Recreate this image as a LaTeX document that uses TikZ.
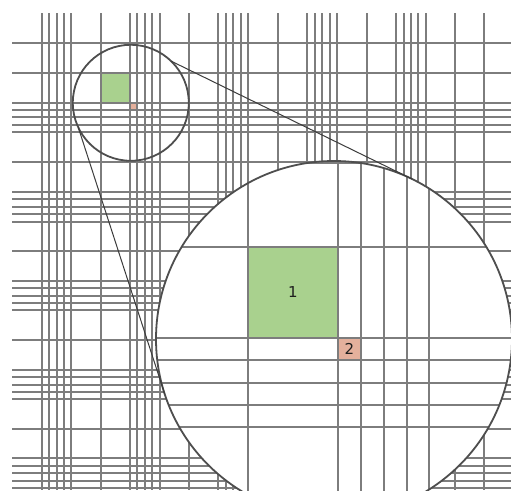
\documentclass[tikz,border=0pt]{standalone}
\usepackage{fontspec}
\newfontfamily\labfont{DejaVu Sans}
\definecolor{gridgray}{RGB}{125,125,125}
\definecolor{circgray}{RGB}{78,78,78}
\definecolor{tangray}{RGB}{60,60,60}
\definecolor{cellgreen}{RGB}{169,209,142}
\definecolor{cellred}{RGB}{228,176,156}
\definecolor{labelink}{RGB}{30,30,30}
\begin{document}
\begin{tikzpicture}[x=1pt,y=-1pt,
  gridline/.style={draw=gridgray, line width=1.8pt},
  cellbox/.style={inner sep=0pt, outer sep=0pt, anchor=north west, text=labelink, font=\labfont\fontsize{15}{17}\selectfont},
  lens/.style={circle, draw=circgray, line width=1.8pt, inner sep=0pt, outer sep=0pt},
  tanline/.style={draw=tangray, line width=1pt}]
\useasboundingbox (0,0) rectangle (511,490);
\fill[white] (0,0) rectangle (511,490);

% cells of the background grid
\node[cellbox, fill=cellgreen, minimum width=29pt, minimum height=30pt] (gs) at (101,73) {};
\node[cellbox, fill=cellred, minimum width=7pt, minimum height=7pt] (rs) at (130,103) {};

% background grid
\foreach \v in {42,49,57,64,71, 101, 130,137,145,152,160, 189,
                218,226,233,241,248, 278, 307,315,322,330,337, 367,
                396,404,411,418,426, 455, 484}
  \draw[gridline] (\v,13) -- (\v,490);
\foreach \h in {43, 73, 103,110,117,125,132, 162, 192,199,207,214,222, 251,
                281,288,296,303,310, 340, 370,377,385,392,399, 429,
                458,466,473,481,488}
  \draw[gridline] (12,\h) -- (511,\h);

% small lens
\node[lens, minimum size=116pt] (sc) at (130.8,102.8) {};

% magnified view
\fill[white] (334,339) circle (178pt);
\begin{scope}
  \clip (334,339) circle (178pt);
  \node[cellbox, fill=cellgreen, minimum width=90pt, minimum height=91pt] (g1) at (248,247) {1};
  \node[cellbox, fill=cellred, minimum width=23pt, minimum height=22pt] (r2) at (338,338) {2};
  \foreach \v in {248,338,361,384,407,429}
    \draw[gridline] (\v,150) -- (\v,520);
  \foreach \h in {163,247,338,360,383,405,427}
    \draw[gridline] (150,\h) -- (520,\h);
\end{scope}
\node[lens, minimum size=356pt] (bc) at (334,339) {};

% connecting lines
\draw[tanline] (sc.46.4) -- (bc.64);
\draw[tanline] (sc.205.9) -- (bc.198);
\end{tikzpicture}
\end{document}
